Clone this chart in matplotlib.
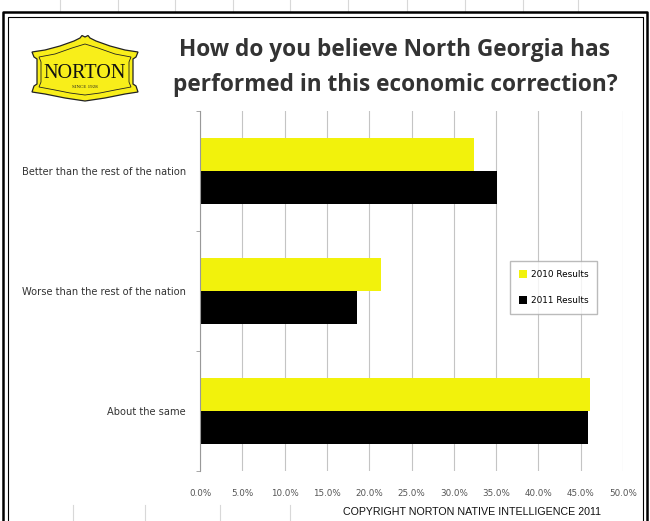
import numpy as np
import matplotlib
matplotlib.use("Agg")
import matplotlib.pyplot as plt
from matplotlib.patches import Polygon

categories = [
    "Better than the rest of the nation",
    "Worse than the rest of the nation",
    "About the same",
]
results_2010 = [32.4, 21.4, 46.1]
results_2011 = [35.1, 18.6, 45.9]
series_labels = ["2010 Results", "2011 Results"]
x_ticks = [0, 5, 10, 15, 20, 25, 30, 35, 40, 45, 50]

title = "How do you believe North Georgia has\nperformed in this economic correction?"
footer = "COPYRIGHT NORTON NATIVE INTELLIGENCE 2011"

YELLOW = "#F2F20C"
LOGO_YELLOW = "#F8EE1A"
W, H = 650, 521

fig = plt.figure(figsize=(6.5, 5.21), dpi=100)

# page overlay in pixel units: sheet lines, frame, logo
page = fig.add_axes([0, 0, 1, 1], zorder=0)
page.set_xlim(0, W)
page.set_ylim(H, 0)
page.axis("off")

for x in [60, 118, 175, 233, 290, 348, 407, 465, 523, 578]:
    page.plot([x, x], [0, 12], color="#d8d8d8", lw=0.8)
for x in [73, 145, 220, 290]:
    page.plot([x, x], [505, H], color="#d8d8d8", lw=0.8)

# double frame around the slide
page.plot([3, 3, 647, 647], [H, 12, 12, H], color="black", lw=1.8)
page.plot([8, 8, 643, 643], [H, 16.5, 16.5, H], color="black", lw=0.8)

# logo cartouche
outer = [(32, 52), (45, 50), (60, 46), (74, 41), (80, 38), (82, 35.5), (85, 37),
         (88, 35.5), (90, 38), (96, 41), (110, 46), (125, 50), (138, 52),
         (136, 57), (133, 59), (133, 84), (136, 86), (138, 92), (125, 94),
         (105, 98), (85, 101), (65, 98), (45, 94), (32, 92), (34, 86),
         (37, 84), (37, 59), (34, 57)]
page.add_patch(Polygon(outer, closed=True, facecolor=LOGO_YELLOW,
                       edgecolor="#222222", lw=0.9))
inner = [(39, 57), (55, 54), (72, 48), (85, 44), (98, 48), (115, 54), (131, 57),
         (129, 62), (129, 82), (131, 87), (115, 90), (100, 93), (85, 95),
         (70, 93), (55, 90), (39, 87), (41, 82), (41, 62)]
page.add_patch(Polygon(inner, closed=True, facecolor="none",
                       edgecolor="#222222", lw=0.6))
page.text(85, 73, "NORTON", family="Liberation Serif", fontsize=14.5,
          ha="center", va="center", color="#111111")
page.text(85, 87.5, "SINCE 1928", family="Liberation Serif", fontsize=3.6,
          ha="center", va="center", color="#222222")

fig.text(395 / W, 1 - 67.5 / H, title, family="Open Sans", fontsize=16.3,
         fontweight="bold", color="#333333", ha="center", va="center",
         linespacing=1.58)
fig.text(472 / W, 1 - 512 / H, footer, family="Liberation Sans", fontsize=7.7,
         color="#111111", ha="center", va="center")

# bar chart
ax = fig.add_axes([200 / W, 1 - 471 / H, 423 / W, 360 / H], zorder=1)
y = np.arange(len(categories))
h = 0.275
ax.barh(y - h / 2, results_2010, height=h, color=YELLOW, label=series_labels[0], zorder=2)
ax.barh(y + h / 2, results_2011, height=h, color="black", label=series_labels[1], zorder=2)

ax.set_ylim(len(categories) - 0.5, -0.5)
ax.set_xlim(0, 50)
ax.set_xticks(x_ticks)
ax.set_xticklabels([f"{t:.1f}%" for t in x_ticks], fontsize=6.3, color="#555555")
ax.set_yticks(y)
ax.set_yticklabels(categories, fontsize=7.1, color="#333333")
ax.set_yticks(np.arange(len(categories) + 1) - 0.5, minor=True)
ax.tick_params(axis="y", which="major", length=0, pad=10)
ax.tick_params(axis="y", which="minor", length=3, color="#999999")
ax.tick_params(axis="x", length=0, pad=13)
ax.grid(axis="x", color="#c4c4c4", lw=0.8, zorder=0)
for side in ["top", "right", "bottom"]:
    ax.spines[side].set_visible(False)
ax.spines["left"].set_color("#999999")

ax.legend(loc="upper left", bbox_to_anchor=(0.733, 0.583), fontsize=6.4,
          frameon=True, fancybox=False, edgecolor="#aaaaaa", handlelength=0.9,
          handleheight=0.9, borderpad=1.0, labelspacing=1.9, handletextpad=0.4,
          borderaxespad=0)

fig.savefig("out.png", dpi=100, facecolor="white")
